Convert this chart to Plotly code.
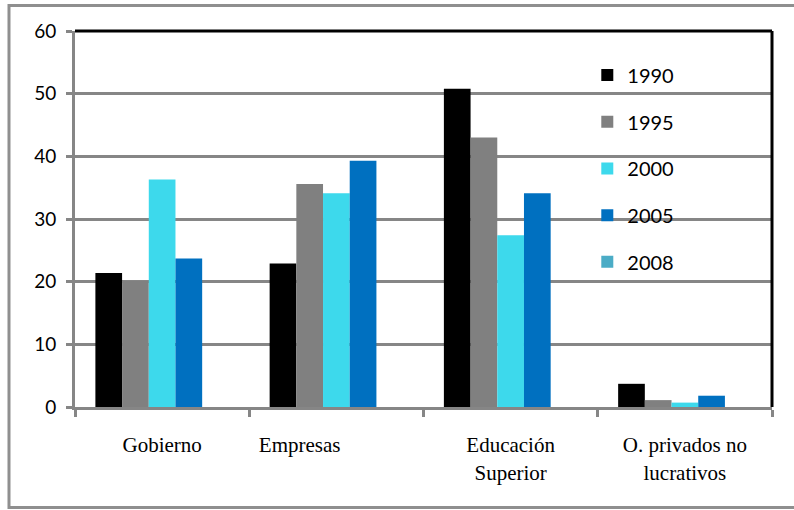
import plotly.graph_objects as go

# Sectors (x categories) and yearly shares (%)
categories = ["Gobierno", "Empresas" + "\u00a0" * 14, "Educación<br>Superior", "O. privados no<br>lucrativos"]
years = ["1990", "1995", "2000", "2005", "2008"]
v1990 = [21.4, 22.9, 50.8, 3.7]
v1995 = [20.1, 35.6, 43.0, 1.1]
v2000 = [36.3, 34.1, 27.4, 0.7]
v2005 = [23.7, 39.3, 34.1, 1.8]
v2008 = [None, None, None, None]
series = [v1990, v1995, v2000, v2005, v2008]
colors = ["#000000", "#808080", "#3dd9ec", "#0070c0", "#4bacc6"]

GRID = "#868686"

fig = go.Figure()
for name, vals, col in zip(years, series, colors):
    fig.add_trace(go.Bar(
        x=categories, y=vals, name=name, legendgroup=name,
        marker=dict(color=col, line=dict(width=0)),
    ))

fig.update_layout(
    width=794, height=510,
    margin=dict(l=75, r=22, t=31, b=103),
    paper_bgcolor="white", plot_bgcolor="white",
    barmode="group", bargap=0.234, bargroupgap=0,
    showlegend=True,
    legend=dict(
        x=0.735, y=0.9347, xanchor="left", yanchor="top",
        font=dict(family="Lato", size=20, color="#000000"),
        tracegroupgap=17.7, bgcolor="rgba(0,0,0,0)",
    ),
    xaxis=dict(
        type="category", showgrid=False,
        showline=True, linecolor=GRID, linewidth=3,
        ticks="outside", ticklen=7, tickwidth=3, tickcolor=GRID,
        tickson="boundaries",
        tickfont=dict(family="Liberation Serif", size=21, color="#000000"),
        ticklabelstandoff=17,
    ),
    yaxis=dict(
        range=[0, 60], dtick=10,
        showgrid=True, gridcolor=GRID, gridwidth=3,
        showline=True, linecolor=GRID, linewidth=3,
        ticks="outside", ticklen=6, tickwidth=3, tickcolor=GRID,
        tickfont=dict(family="Lato", size=19, color="#000000"),
        ticklabelstandoff=6, zeroline=False,
    ),
    shapes=[
        # black frame on top and right of the plotting area
        dict(type="line", xref="paper", yref="paper", x0=0, x1=1, y0=1, y1=1,
             line=dict(color="#000000", width=3)),
        dict(type="line", xref="paper", yref="paper", x0=1, x1=1, y0=0, y1=1,
             line=dict(color="#000000", width=3)),
        # outer chart border
        dict(type="rect", xref="paper", yref="paper",
             x0=-0.0947, x1=1.05, y0=-0.2673, y1=1.0678,
             line=dict(color="#8f8f8f", width=3), fillcolor="rgba(0,0,0,0)"),
    ],
)

fig.write_html("out.html")
